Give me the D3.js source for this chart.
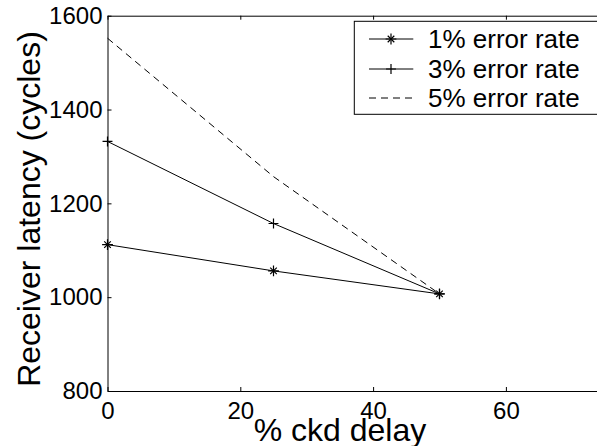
<!DOCTYPE html>
<html>
<head>
<meta charset="utf-8">
<script src="https://cdn.jsdelivr.net/npm/d3@7"></script>
<style>
  body { margin: 0; background: #fff; }
  svg { display: block; }
  text { font-family: "Liberation Sans", Arial, Helvetica, sans-serif; fill: #000; }
</style>
</head>
<body>
<svg id="chart" width="597" height="446"></svg>
<script>
// data
var delays = [0, 25, 50];
var rate1 = [1112, 1056, 1007];
var rate3 = [1332, 1157, 1007];
var rate5 = [1552, 1257, 1007];

var seriesNames = ["1% error rate", "3% error rate", "5% error rate"];
var seriesValues = [rate1, rate3, rate5];
var seriesMarkers = ["star", "plus", "none"];
var seriesDash = [null, null, "7,5"];

var xTicks = [0, 20, 40, 60];
var yTicks = [800, 1000, 1200, 1400, 1600];

var svg = d3.select("#chart");

var x = d3.scaleLinear()
    .domain([0, 80])
    .range([107.5, 638.7]);

var y = d3.scaleLinear()
    .domain([800, 1600])
    .range([391, 15.7]);

function translate(a, b) {
    return "translate(" + a + "," + b + ")";
}

// axes, ticks pointing inward like matlab
var bottom = svg.append("g")
    .attr("transform", translate(0, y(800)))
    .call(d3.axisBottom(x).tickValues(xTicks).tickSize(-4).tickSizeOuter(0)
        .tickPadding(11).tickFormat(d3.format("d")));

var left = svg.append("g")
    .attr("transform", translate(x(0), 0))
    .call(d3.axisLeft(y).tickValues(yTicks).tickSize(-4).tickSizeOuter(0)
        .tickPadding(5).tickFormat(d3.format("d")));

svg.append("g")
    .attr("transform", translate(0, y(1600)))
    .call(d3.axisTop(x).tickValues(xTicks).tickSize(-4).tickSizeOuter(0).tickFormat(""));

svg.append("g")
    .attr("transform", translate(x(80), 0))
    .call(d3.axisRight(y).tickValues(yTicks).tickSize(-4).tickSizeOuter(0).tickFormat(""));

svg.selectAll(".domain, .tick line")
    .attr("stroke", "#000")
    .attr("stroke-width", 1);

bottom.selectAll("text").style("font-size", "24px").attr("font-family", null);
left.selectAll("text").style("font-size", "24px").attr("font-family", null);

// series lines
var line = d3.line()
    .x(function(d) { return x(d[0]); })
    .y(function(d) { return y(d[1]); });

seriesValues.forEach(function(vals, i) {
    var pts = delays.map(function(dl, j) { return [dl, vals[j]]; });
    svg.append("path")
        .attr("d", line(pts))
        .attr("fill", "none")
        .attr("stroke", "#000")
        .attr("stroke-width", 1)
        .attr("stroke-dasharray", seriesDash[i]);
});

var plusPath = d3.symbol().type(d3.symbolPlus).size(40)();
var timesPath = d3.symbol().type(d3.symbolTimes).size(30)();
var smallPlus = d3.symbol().type(d3.symbolPlus).size(34)();

function drawMarker(g, kind) {
    if (kind === "star") {
        g.append("path").attr("d", plusPath);
        g.append("path").attr("d", timesPath);
    } else if (kind === "plus") {
        g.append("path").attr("d", smallPlus);
    }
    g.selectAll("path")
        .attr("fill", "none")
        .attr("stroke", "#000")
        .attr("stroke-width", 1.2);
}

seriesValues.forEach(function(vals, i) {
    if (seriesMarkers[i] === "none") return;
    delays.forEach(function(dl, j) {
        var g = svg.append("g").attr("transform", translate(x(dl), y(vals[j])));
        drawMarker(g, seriesMarkers[i]);
    });
});

// axis titles
svg.append("text")
    .attr("x", 340)
    .attr("y", 441)
    .attr("text-anchor", "middle")
    .style("font-size", "32px")
    .text("% ckd delay");

svg.append("text")
    .attr("transform", translate(40, 209) + " rotate(-90)")
    .attr("text-anchor", "middle")
    .style("font-size", "32px")
    .text("Receiver latency (cycles)");

// legend
var legend = svg.append("g");

legend.append("rect")
    .attr("x", 354.3)
    .attr("y", 21.3)
    .attr("width", 300)
    .attr("height", 93)
    .attr("fill", "#fff")
    .attr("stroke", "#000")
    .attr("stroke-width", 1);

var legendY = [39, 69, 98];

seriesNames.forEach(function(name, i) {
    var row = legend.append("g").attr("transform", translate(0, legendY[i]));
    row.append("line")
        .attr("x1", 369).attr("x2", 413.3)
        .attr("y1", 0).attr("y2", 0)
        .attr("stroke", "#000")
        .attr("stroke-width", 1)
        .attr("stroke-dasharray", seriesDash[i]);
    var m = row.append("g").attr("transform", translate(391, 0));
    drawMarker(m, seriesMarkers[i]);
    row.append("text")
        .attr("x", 428)
        .attr("dy", "0.36em")
        .style("font-size", "26px")
        .text(name);
});
</script>
</body>
</html>
